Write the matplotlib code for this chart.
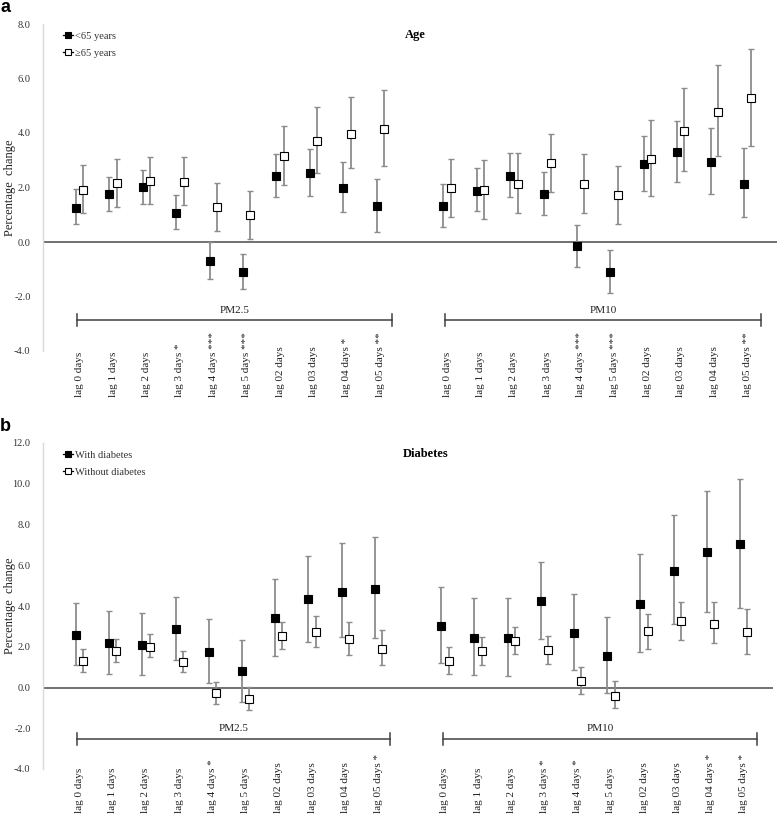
"""Percentage change in outcome by lag, stratified by age and diabetes."""

import matplotlib
matplotlib.use('Agg')
import matplotlib.pyplot as plt
from matplotlib.lines import Line2D

plt.rcParams['font.family'] = ['Liberation Serif', 'DejaVu Serif']

# ---- data -------------------------------------------------------------
lags = ["lag 0 days", "lag 1 days", "lag 2 days", "lag 3 days", "lag 4 days",
        "lag 5 days", "lag 02 days", "lag 03 days", "lag 04 days", "lag 05 days"]
pollutants = ["PM2.5", "PM10"]

# panel a: age (PM2.5 lags then PM10 lags)
age_stars = ["", "", "", "*", "***", "***", "", "", "*", "**",
             "", "", "", "", "***", "***", "", "", "", "**"]
young_est = [1.26, 1.75, 2.01, 1.08, -0.70, -1.10, 2.42, 2.52, 1.97, 1.31,
             1.31, 1.88, 2.43, 1.75, -0.16, -1.10, 2.86, 3.29, 2.95, 2.14]
young_lo = [0.65, 1.14, 1.38, 0.47, -1.35, -1.74, 1.64, 1.68, 1.09, 0.36,
            0.55, 1.14, 1.64, 0.99, -0.91, -1.88, 1.87, 2.19, 1.76, 0.91]
young_hi = [1.93, 2.40, 2.64, 1.74, 0.00, -0.45, 3.22, 3.42, 2.94, 2.32,
            2.14, 2.70, 3.25, 2.56, 0.64, -0.31, 3.88, 4.43, 4.18, 3.45]
old_est = [1.92, 2.17, 2.24, 2.20, 1.28, 0.99, 3.14, 3.72, 3.97, 4.15,
           1.97, 1.92, 2.14, 2.89, 2.12, 1.71, 3.06, 4.06, 4.78, 5.27]
old_lo = [1.05, 1.30, 1.38, 1.36, 0.40, 0.12, 2.08, 2.53, 2.70, 2.79,
          0.93, 0.86, 1.08, 1.82, 1.08, 0.67, 1.70, 2.59, 3.17, 3.52]
old_hi = [2.83, 3.05, 3.11, 3.11, 2.18, 1.88, 4.26, 4.94, 5.32, 5.58,
          3.05, 3.02, 3.25, 3.96, 3.22, 2.79, 4.47, 5.64, 6.50, 7.09]

# panel b: diabetes
diab_stars = ["", "", "", "", "*", "", "", "", "", "*",
              "", "", "", "*", "*", "", "", "", "*", "*"]
with_est = [2.59, 2.18, 2.09, 2.87, 1.75, 0.80, 3.41, 4.33, 4.70, 4.85,
            3.01, 2.44, 2.44, 4.25, 2.67, 1.55, 4.10, 5.74, 6.63, 7.02]
with_lo = [1.09, 0.68, 0.62, 1.35, 0.24, -0.73, 1.54, 2.24, 2.47, 2.42,
           1.19, 0.62, 0.55, 2.39, 0.86, -0.29, 1.75, 3.13, 3.73, 3.92]
with_hi = [4.13, 3.77, 3.65, 4.46, 3.36, 2.34, 5.33, 6.46, 7.07, 7.38,
           4.92, 4.39, 4.39, 6.18, 4.59, 3.46, 6.53, 8.48, 9.65, 10.24]
without_est = [1.31, 1.80, 2.01, 1.26, -0.27, -0.58, 2.52, 2.72, 2.37, 1.91,
               1.31, 1.80, 2.26, 1.83, 0.34, -0.40, 2.75, 3.24, 3.13, 2.72]
without_lo = [0.78, 1.27, 1.50, 0.76, -0.81, -1.11, 1.88, 1.99, 1.59, 1.09,
              0.65, 1.12, 1.63, 1.16, -0.32, -1.01, 1.90, 2.32, 2.16, 1.62]
without_hi = [1.88, 2.39, 2.62, 1.80, 0.27, 0.02, 3.23, 3.49, 3.21, 2.82,
              1.99, 2.50, 2.95, 2.54, 0.99, 0.31, 3.61, 4.21, 4.21, 3.83]


def slot_positions():
    # 10 PM2.5 lags, one empty slot, then 10 PM10 lags
    return list(range(10)) + list(range(11, 21))


def draw_panel(fig, rect, letter, title, labels, series, stars, ylim, yticks,
               bracket_y, bracket_h, group_label_y, label_bottom):
    ax = fig.add_axes(rect)
    xs = slot_positions()
    off = 0.11

    handles = []
    for k, (name, est, lo, hi, face) in enumerate(series):
        sign = -1 if k == 0 else 1
        xx = [x + sign * off for x in xs]
        yerr = [[e - l for e, l in zip(est, lo)], [h - e for e, h in zip(est, hi)]]
        ax.errorbar(xx, est, yerr=yerr, fmt='none', ecolor='#8c8c8c',
                    elinewidth=1.3, capsize=2.3, capthick=1.0, zorder=2)
        ax.plot(xx, est, linestyle='none', marker='s', markersize=5.4,
                markerfacecolor=face, markeredgecolor='black',
                markeredgewidth=0.8, zorder=3)
        handles.append(Line2D([0], [0], color='black', lw=0.9, marker='s',
                              markersize=4.5, markerfacecolor=face,
                              markeredgecolor='black', markeredgewidth=0.8,
                              label=name))

    ax.axhline(0, color='#595959', lw=1.2, zorder=1)

    # pollutant brackets
    spans = [(-0.08, 9.36), (10.95, 20.4)]
    for (x0, x1), pol in zip(spans, pollutants):
        ax.plot([x0, x1], [bracket_y, bracket_y], color='#404040', lw=1.1)
        for xe in (x0, x1):
            ax.plot([xe, xe], [bracket_y - bracket_h, bracket_y + bracket_h],
                    color='#404040', lw=1.1)
        ax.text((x0 + x1) / 2, group_label_y, pol, ha='center', va='center',
                fontsize=8, color='#222222')

    # category labels (rotated, bottom-aligned)
    full = labels + labels
    for x, lab, st in zip(xs, full, stars):
        txt = lab + (" " + st if st else "")
        ax.text(x, label_bottom, txt, rotation=90, ha='center', va='bottom',
                fontsize=8, color='#222222',
                transform=ax.get_xaxis_transform(), clip_on=False)

    ax.set_xlim(-1.1, 20.88)
    ax.set_ylim(*ylim)
    ax.set_yticks(yticks)
    ax.set_yticklabels([f"{t:.1f}" for t in yticks], fontsize=7.5,
                       color='#333333')
    ax.set_xticks([])
    ax.tick_params(axis='y', length=0, pad=9)
    for s in ('top', 'right', 'bottom'):
        ax.spines[s].set_visible(False)
    ax.spines['left'].set_color('#d9d9d9')
    ax.spines['left'].set_linewidth(1.0)

    ax.set_ylabel("Percentage  change", fontsize=9, color='#222222')
    ax.yaxis.set_label_coords(-0.037, 0.5)

    ax.text(0.493, 0.965, title, transform=ax.transAxes, fontsize=9,
            fontweight='bold', ha='left', va='center')

    ax.legend(handles=handles, loc='upper left', bbox_to_anchor=(0.017, 1.0),
              frameon=False, fontsize=7.5, handlelength=0.95,
              handletextpad=0.2, labelspacing=0.75, borderpad=0.2,
              labelcolor='#333333')

    fig.text(rect[0] - 0.055, rect[1] + rect[3] + 0.01, letter,
             family='Liberation Sans', fontweight='bold', fontsize=13,
             ha='left', va='bottom')
    return ax


fig = plt.figure(figsize=(7.78, 8.16), dpi=100)

draw_panel(fig, [43 / 778, 1 - 351 / 816, 734 / 778, 327 / 816], 'a', 'Age', lags,
           [("<65 years", young_est, young_lo, young_hi, 'black'),
            ("\u226565 years", old_est, old_lo, old_hi, 'white')],
           age_stars, (-4, 8), [8, 6, 4, 2, 0, -2, -4],
           bracket_y=-2.87, bracket_h=0.22, group_label_y=-2.52,
           label_bottom=-0.14)

draw_panel(fig, [43 / 778, 1 - 769 / 816, 730 / 778, 326 / 816], 'b', 'Diabetes', lags,
           [("With diabetes", with_est, with_lo, with_hi, 'black'),
            ("Without diabetes", without_est, without_lo, without_hi, 'white')],
           diab_stars, (-4, 12), [12, 10, 8, 6, 4, 2, 0, -2, -4],
           bracket_y=-2.52, bracket_h=0.3, group_label_y=-2.0,
           label_bottom=-0.135)

fig.savefig('out.png', dpi=100)
